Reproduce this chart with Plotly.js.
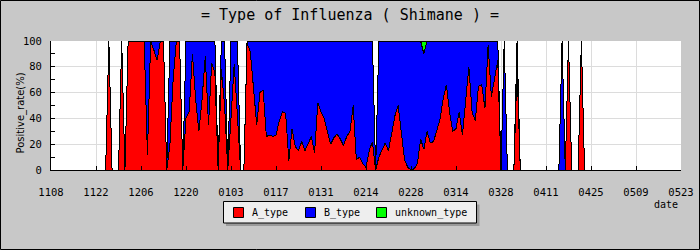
<!DOCTYPE html>
<html>
<head>
<meta charset="utf-8">
<script src="https://cdn.plot.ly/plotly-3.0.1.min.js"></script>
<style>
html,body{margin:0;padding:0;background:#c8c8c8;}
#chart{width:700px;height:250px;}
#chart .scatterlayer path{shape-rendering:crispEdges;}
</style>
</head>
<body>
<div id="chart"></div>
<script>
// ---- data (daily, first day 2010-11-08, last day 2011-05-23) ----
const startDate = [2010, 10, 8];
const A_type = [
  0,0,0,0,0,0,0,0,0,0,
  0,0,0,0,0,0,0,0,100,0,
  0,0,100,0,100,100,100,100,100,100,
  12,100,93,85,100,100,0,20,70,100,
  100,0,40,45,90,55,30,55,88,35,
  83,75,0,78,50,0,40,82,42,0,
  0,98,92,63,35,60,62,26,27,26,
  27,38,45,44,7,32,18,15,22,15,
  20,26,13,52,45,40,30,20,25,28,
  24,19,26,30,50,8,10,5,2,15,
  22,0,10,15,21,15,28,42,50,28,
  8,2,0,1,5,24,16,30,21,22,
  30,39,55,66,45,30,32,45,27,55,
  80,45,38,65,66,48,97,57,70,85,
  0,0,0,0,0,80,0,0,0,0,
  0,0,0,0,0,0,0,0,0,0,
  0,100,0,0,0,100,0,0,0,0,
  0,0,0,0,0,0,0,0,0,0,
  0,0,0,0,0,0,0,0,0,0,
  0,0,0,0,0,0,0
];
const B_type = [
  0,0,0,0,0,0,0,0,0,0,
  0,0,0,0,0,0,0,0,0,0,
  0,0,0,0,0,0,0,0,0,0,
  88,0,7,15,0,0,0,80,30,0,
  0,0,60,55,10,45,70,45,12,65,
  17,25,0,22,50,0,60,18,58,0,
  0,2,8,37,65,40,38,74,73,74,
  73,62,55,56,93,68,82,85,78,85,
  80,74,87,48,55,60,70,80,75,72,
  76,81,74,70,50,92,90,95,98,85,
  78,0,90,85,79,85,72,58,50,72,
  92,98,100,99,95,76,74,70,79,78,
  70,61,45,34,55,70,68,55,73,45,
  20,55,62,35,34,52,3,43,30,15,
  0,100,0,0,0,20,0,0,0,0,
  0,0,0,0,0,0,0,0,0,100,
  0,0,0,0,0,0,0,0,0,0,
  0,0,0,0,0,0,0,0,0,0,
  0,0,0,0,0,0,0,0,0,0,
  0,0,0,0,0,0,0
];
const unknown_type = A_type.map(() => 0);
unknown_type[116] = 10;
const seriesNames = ['A_type', 'B_type', 'unknown_type'];
const seriesColors = ['#ff0000', '#0000ff', '#00ff00'];
const titleText = '= Type of Influenza ( Shimane ) =';
const yTitle = 'Positive_rate(%)';
const xTitle = 'date';

// dates for each daily value
const dates = A_type.map((_, i) => {
  const d = new Date(Date.UTC(startDate[0], startDate[1], startDate[2]) + i * 86400000);
  return d.toISOString().slice(0, 10);
});

const values = [A_type, B_type, unknown_type];
const traces = values.map((v, k) => ({
  x: dates, y: v, name: seriesNames[k], type: 'scatter', mode: 'lines',
  stackgroup: 'one', line: {color: '#000000', width: 1, shape: 'linear'},
  fillcolor: seriesColors[k], showlegend: false, hoverinfo: 'skip'
}));

// pixel -> paper helpers (plot area: x 51..681, y 41..170)
const L = 51, T = 41, W = 630, H = 129;
const px = p => (p - L) / W;
const py = p => (T + H - p) / H;

const mono = 'DejaVu Sans Mono, monospace';
const sans = 'DejaVu Sans, sans-serif';
const shapes = [];
const annotations = [];

// whole-image frame
shapes.push({type: 'rect', xref: 'paper', yref: 'paper', x0: px(0.5), x1: px(699.5), y0: py(249.5), y1: py(0.5),
  line: {color: '#000000', width: 1}, fillcolor: 'rgba(0,0,0,0)', layer: 'below'});

// legend box with shadow
shapes.push({type: 'rect', xref: 'paper', yref: 'paper', x0: px(226), x1: px(479.5), y0: py(226), y1: py(204.5),
  line: {width: 0}, fillcolor: '#9a9a9a'});
shapes.push({type: 'rect', xref: 'paper', yref: 'paper', x0: px(223.5), x1: px(476.5), y0: py(223), y1: py(201.5),
  line: {color: '#000000', width: 1}, fillcolor: '#eeeeee'});
const legX = [233.5, 305.5, 376.5];
seriesNames.forEach((n, k) => {
  shapes.push({type: 'rect', xref: 'paper', yref: 'paper', x0: px(legX[k]), x1: px(legX[k] + 10), y0: py(217.5), y1: py(207.5),
    line: {color: '#000000', width: 1}, fillcolor: seriesColors[k]});
  annotations.push({xref: 'paper', yref: 'paper', x: px(legX[k] + 16.5), y: py(212.5), text: n, showarrow: false,
    xanchor: 'left', yanchor: 'middle', font: {family: mono, size: 10, color: '#000000'}});
});

annotations.push({xref: 'paper', yref: 'paper', x: px(20), y: py(113.5), text: yTitle, showarrow: false,
  textangle: -90, xanchor: 'center', yanchor: 'middle', font: {family: sans, size: 10, color: '#000000'}});
annotations.push({xref: 'paper', yref: 'paper', x: px(680), y: py(204), text: xTitle, showarrow: false,
  xanchor: 'right', yanchor: 'middle', font: {family: mono, size: 10, color: '#000000'}});

const layout = {
  width: 700, height: 250,
  paper_bgcolor: '#c8c8c8', plot_bgcolor: '#ffffff',
  margin: {l: L, r: 700 - L - W, t: T, b: 250 - T - H, pad: 0},
  showlegend: false,
  title: {text: titleText, font: {family: mono, size: 15, color: '#000000'},
    x: 0.5, xref: 'container', xanchor: 'center', y: 1 - 15 / 250, yref: 'container', yanchor: 'middle'},
  xaxis: {
    type: 'date', range: [dates[0], dates[dates.length - 1]],
    tick0: dates[0], dtick: 14 * 86400000, tickformat: '%m%d',
    ticks: 'inside', ticklen: 4, tickcolor: '#000000', tickwidth: 1,
    showgrid: true, gridcolor: '#dcdcdc', gridwidth: 1,
    showline: true, linecolor: '#000000', linewidth: 1, zeroline: false,
    tickfont: {family: mono, size: 10.5, color: '#000000'}, ticklabelstandoff: 12,
    fixedrange: true
  },
  yaxis: {
    range: [0, 100], dtick: 20, tick0: 0,
    ticks: 'inside', ticklen: 4, tickcolor: '#000000', tickwidth: 1,
    minor: {dtick: 10, ticks: 'inside', ticklen: 4, tickcolor: '#000000', showgrid: false},
    showgrid: true, gridcolor: '#dcdcdc', gridwidth: 1,
    showline: true, linecolor: '#000000', linewidth: 1, zeroline: false,
    tickfont: {family: mono, size: 10.5, color: '#000000'}, ticklabelstandoff: 6,
    fixedrange: true
  },
  shapes: shapes,
  annotations: annotations
};

Plotly.newPlot('chart', traces, layout, {displayModeBar: false, staticPlot: true});
</script>
</body>
</html>
